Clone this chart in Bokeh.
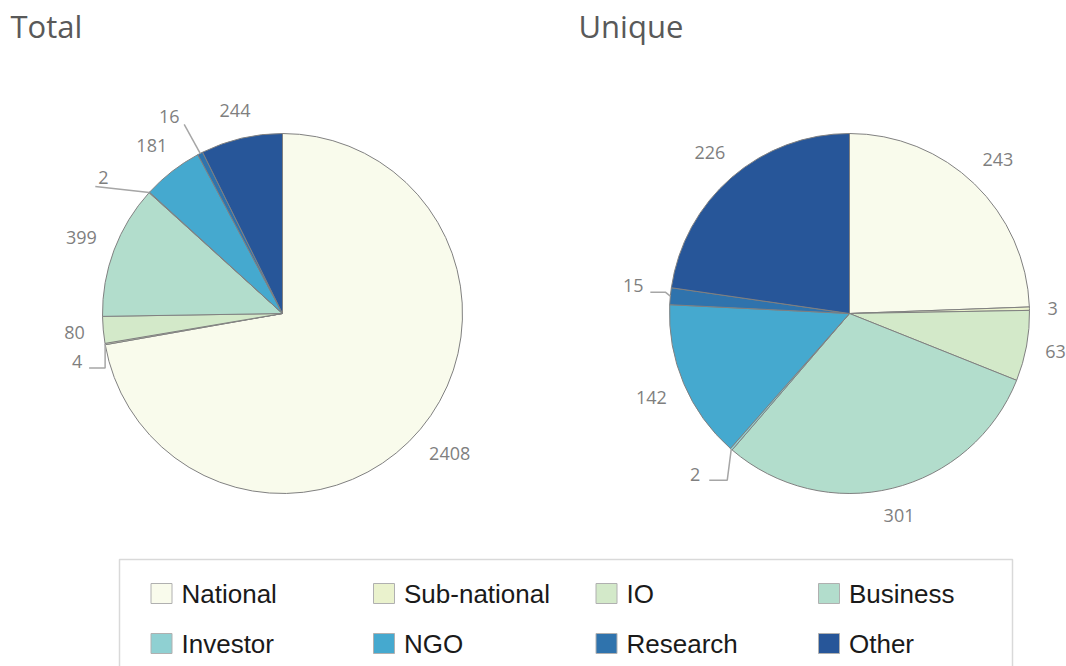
import numpy as np
from bokeh.plotting import figure
from bokeh.models import Range1d
from bokeh.core.properties import value
from bokeh.embed import file_html
from bokeh.resources import INLINE

# ---------------- data ----------------
categories = ["National", "Sub-national", "IO", "Business", "Investor", "NGO", "Research", "Other"]
total_values = [2408, 4, 80, 399, 2, 181, 16, 244]
unique_values = [243, 3, 63, 301, 2, 142, 15, 226]
titles = ["Total", "Unique"]

# ---------------- style ----------------
colors = ["#f9fbec", "#eaf2cd", "#d3e9c9", "#b2ddcc", "#8fd0d2", "#45a9cf", "#2f73ad", "#275699"]
LABEL_COLOR = "#7f7f7f"
EDGE = "#808080"
FONT = value("Open Sans")
RADIUS = 180
CENTERS = [(282, 313), (849, 313)]
GAP = 18
DIGIT_W = 10.3
TEXT_H = 14

# leader-line layouts for tiny slices: offsets (screen px) from rim point, then label offset from last point
leaders = {
    (0, "Sub-national"): dict(pts=[(0, 24), (-16, 0)], lab=(-12, -7)),
    (0, "Investor"): dict(pts=[(-54, -6)], lab=(8, -9)),
    (0, "Research"): dict(pts=[(-16, -29)], lab=(-15, -8)),
    (1, "Investor"): dict(pts=[(-4, 31), (-18, 0)], lab=(-14, -6)),
    (1, "Research"): dict(pts=[(-5, -4), (-15, 0)], lab=(-17, -7)),
}

W, H = 1066, 666
p = figure(width=W, height=H, output_backend="svg", toolbar_location=None,
           x_range=Range1d(0, W), y_range=Range1d(-H, 0),
           min_border=0)
p.axis.visible = False
p.grid.visible = False
p.outline_line_color = None
p.background_fill_color = "white"
p.border_fill_color = "white"

for ci, vals in enumerate([total_values, unique_values]):
    cx, cy = CENTERS[ci]
    v = np.array(vals, dtype=float)
    tot = v.sum()
    cum = np.concatenate([[0], np.cumsum(v)])
    frac0 = cum[:-1] / tot
    frac1 = cum[1:] / tot
    start = np.pi / 2 - 2 * np.pi * frac0
    end = np.pi / 2 - 2 * np.pi * frac1
    p.wedge(x=cx, y=-cy, radius=RADIUS, start_angle=list(start), end_angle=list(end),
            direction="clock", fill_color=colors, line_color=EDGE, line_width=1)

    lx, ly, ltxt = [], [], []
    for i, cat in enumerate(categories):
        mid = 2 * np.pi * (frac0[i] + frac1[i]) / 2  # clockwise from top
        dx, dy = np.sin(mid), -np.cos(mid)  # screen direction
        txt = str(vals[i])
        key = (ci, cat)
        if key in leaders:
            spec = leaders[key]
            px, py = cx + RADIUS * dx, cy + RADIUS * dy
            xs, ys = [px], [py]
            for ox, oy in spec["pts"]:
                px, py = px + ox, py + oy
                xs.append(px)
                ys.append(py)
            p.line(x=xs, y=[-y for y in ys], line_color="#a6a6a6", line_width=1.5)
            lx.append(px + spec["lab"][0])
            ly.append(py + spec["lab"][1])
        else:
            w = DIGIT_W * len(txt)
            R = RADIUS + GAP + abs(dx) * w / 2 + abs(dy) * TEXT_H / 2
            lx.append(cx + R * dx)
            ly.append(cy + R * dy)
        ltxt.append(txt)
    p.text(x=lx, y=[-y for y in ly], text=ltxt, text_font=FONT, text_font_size="18px",
           text_color=LABEL_COLOR, text_align="center", text_baseline="middle")

# titles
p.text(x=[10, 578], y=[-25, -25], text=titles, text_font=FONT, text_font_size="31px",
       text_color="#595959", text_align="left", text_baseline="middle")

# legend box (bottom edge falls outside the window)
p.quad(left=[119], right=[1012], top=[-559], bottom=[-720], fill_color=None,
       line_color="#d9d9d9", line_width=1.5)

col_x = [181 + 222.5 * k for k in range(4)]
row_y = [593, 643]
sx, sy, tx, ty = [], [], [], []
for i, cat in enumerate(categories):
    r, c = divmod(i, 4)
    sx.append(col_x[c] - 20)
    sy.append(-row_y[r])
    tx.append(col_x[c])
    ty.append(-row_y[r])
p.rect(x=sx, y=sy, width=21, height=20, fill_color=colors, line_color="#b0b0b0", line_width=1)
p.text(x=tx, y=ty, text=categories, text_font=value("Liberation Sans"), text_font_size="26px",
       text_color="#1a1a1a", text_align="left", text_baseline="middle")

open("out.html", "w").write(file_html(p, INLINE))
